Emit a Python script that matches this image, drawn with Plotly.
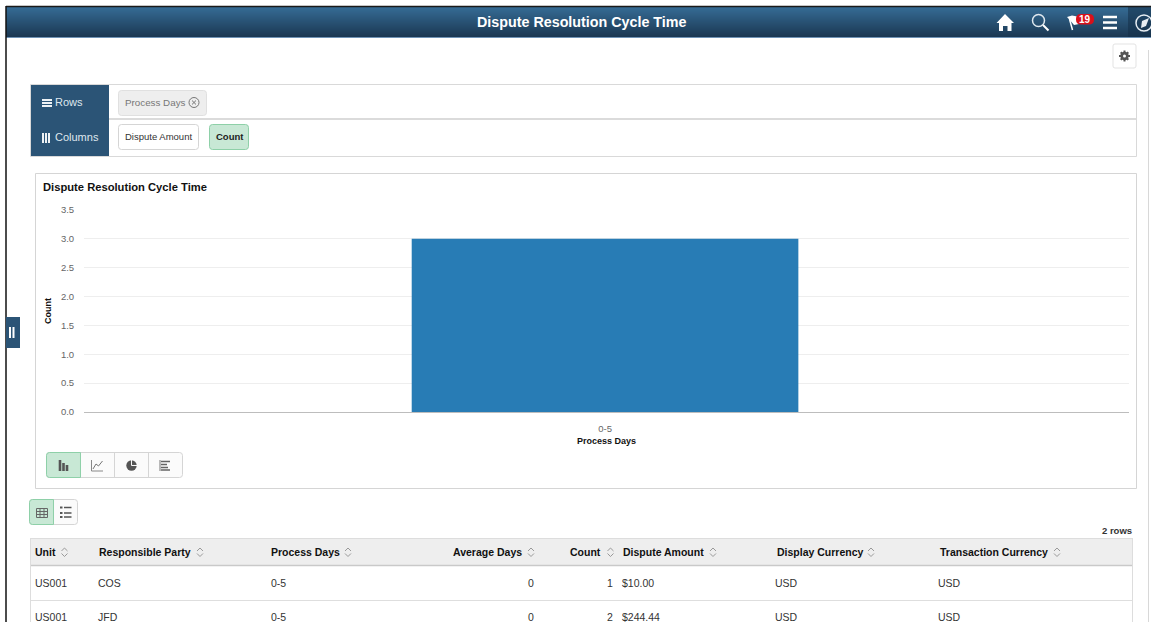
import plotly.graph_objects as go

W, H = 1151, 622
FONT = "Liberation Sans"

# ---- data ----
process_days = ["0-5"]
counts = [3]
y_ticks = [0, 0.5, 1, 1.5, 2, 2.5, 3, 3.5]

units = ["US001", "US001"]
parties = ["COS", "JFD"]
row_days = ["0-5", "0-5"]
avg_days = ["0", "0"]
row_counts = ["1", "2"]
amounts = ["$10.00", "$244.44"]
display_cur = ["USD", "USD"]
trans_cur = ["USD", "USD"]

# ---- pixel helpers ----
def px(x): return x / W
def py(y): return 1 - y / H

shapes, ann = [], []

def rect(x0, y0, x1, y1, fill=None, line=None, lw=1, layer="below"):
    shapes.append(dict(type="rect", xref="paper", yref="paper", x0=px(x0), x1=px(x1),
                       y0=py(y1), y1=py(y0), fillcolor=fill or "rgba(0,0,0,0)",
                       line=dict(color=line or "rgba(0,0,0,0)", width=lw if line else 0), layer=layer))

def hline(x0, x1, y, c, lw=1, layer="below"):
    shapes.append(dict(type="line", xref="paper", yref="paper", x0=px(x0), x1=px(x1),
                       y0=py(y), y1=py(y), line=dict(color=c, width=lw), layer=layer))

def vline(x, y0, y1, c, lw=1, layer="below"):
    shapes.append(dict(type="line", xref="paper", yref="paper", x0=px(x), x1=px(x),
                       y0=py(y0), y1=py(y1), line=dict(color=c, width=lw), layer=layer))

def path(cmds, fill=None, line=None, lw=1):
    out = []
    for c in cmds:
        if c[0] == "Z":
            out.append("Z")
        elif c[0] == "Q":
            out.append(f"Q {px(c[1]):.6f},{py(c[2]):.6f} {px(c[3]):.6f},{py(c[4]):.6f}")
        else:
            out.append(f"{c[0]} {px(c[1]):.6f},{py(c[2]):.6f}")
    shapes.append(dict(type="path", xref="paper", yref="paper", path=" ".join(out),
                       fillcolor=fill or "rgba(0,0,0,0)",
                       line=dict(color=line or "rgba(0,0,0,0)", width=lw if line else 0), layer="above"))

def rrect(x0, y0, x1, y1, r=3, fill=None, line=None, lw=1):
    path([("M", x0 + r, y0), ("L", x1 - r, y0), ("Q", x1, y0, x1, y0 + r), ("L", x1, y1 - r),
          ("Q", x1, y1, x1 - r, y1), ("L", x0 + r, y1), ("Q", x0, y1, x0, y1 - r), ("L", x0, y0 + r),
          ("Q", x0, y0, x0 + r, y0), ("Z",)], fill, line, lw)

def lrect(x0, y0, x1, y1, r=3, fill=None, line=None, lw=1):
    path([("M", x0 + r, y0), ("L", x1, y0), ("L", x1, y1), ("L", x0 + r, y1),
          ("Q", x0, y1, x0, y1 - r), ("L", x0, y0 + r), ("Q", x0, y0, x0 + r, y0), ("Z",)], fill, line, lw)

def poly(pts, fill=None, line=None, lw=1, close=True):
    cmds = [("M", *pts[0])] + [("L", *p) for p in pts[1:]]
    if close:
        cmds.append(("Z",))
    path(cmds, fill, line, lw)

def circle(cx, cy, r, fill=None, line=None, lw=1):
    shapes.append(dict(type="circle", xref="paper", yref="paper", x0=px(cx - r), x1=px(cx + r),
                       y0=py(cy + r), y1=py(cy - r), fillcolor=fill or "rgba(0,0,0,0)",
                       line=dict(color=line or "rgba(0,0,0,0)", width=lw if line else 0), layer="above"))

def text(x, y, s, size=10.5, color="#333333", bold=False, anchor="left"):
    ann.append(dict(xref="paper", yref="paper", x=px(x), y=py(y), text=f"<b>{s}</b>" if bold else s,
                    showarrow=False, xanchor=anchor, yanchor="middle", borderpad=0, borderwidth=0,
                    font=dict(family=FONT, size=size, color=color)))

# ---- page frame and header ----
top, bottom = (0x35, 0x6B, 0x94), (0x1B, 0x38, 0x53)
for i in range(30):
    t = i / 29
    c = "rgb(%d,%d,%d)" % tuple(round(a + (b - a) * t) for a, b in zip(top, bottom))
    rect(6, 7 + i, W, 8 + i, fill=c)
rect(1128, 7, W, 37, fill="rgba(20,48,72,0.55)")
hline(6, W, 6.5, "#1a1a1a", 1.5)
hline(6, W, 37.5, "#6f93b5", 1)
vline(6, 6, H, "#111111", 1.5)
text(581.5, 22, "Dispute Resolution Cycle Time", size=14.3, color="#ffffff", bold=True, anchor="center")

# home
poly([(1005, 14), (1014, 23), (1011.5, 23), (1011.5, 31), (1007.5, 31), (1007.5, 26), (1003, 26),
      (1003, 31), (999, 31), (999, 23), (996.5, 23)], fill="#ffffff")
# search
circle(1038.5, 20.5, 6, line="#dfe8ef", lw=1.5)
poly([(1043, 25), (1048.5, 30.5)], line="#ffffff", lw=2, close=False)
# flag with badge
poly([(1067, 17), (1072, 15.5), (1080, 17), (1079, 24), (1074, 25), (1071.5, 22)], fill="#ffffff")
poly([(1069.5, 19), (1072.5, 30)], line="#ffffff", lw=1.5, close=False)
rrect(1076, 14, 1094, 24.5, r=5, fill="#d9101a")
text(1085, 19.3, "19", size=10, color="#ffffff", bold=True, anchor="center")
# hamburger
for y in (17, 22.5, 28):
    hline(1103, 1117, y, "#ffffff", 2.5, layer="above")
# compass
circle(1144, 23, 8, line="#e8eef3", lw=1.5)
poly([(1149, 18), (1146, 26), (1141, 28), (1142, 21)], fill="#e8eef3")

# gear button
rrect(1113, 44, 1136, 68, r=2, fill="#ffffff", line="#e3e3e3")
circle(1124.5, 56, 4.2, fill="#555555")
for a, b in [((1124.5, 50.5), (1124.5, 61.5)), ((1119, 56), (1130, 56)),
             ((1120.7, 52.2), (1128.3, 59.8)), ((1128.3, 52.2), (1120.7, 59.8))]:
    poly([a, b], line="#555555", lw=2, close=False)
circle(1124.5, 56, 1.5, fill="#ffffff")
vline(1148.5, 50, H, "#d8d8d8")

# ---- filter panel ----
rect(30.5, 84.5, 1136.5, 156.5, fill="#ffffff", line="#d9d9d9")
hline(109, 1136, 119, "#cfcfcf", 1.5)
rect(31, 85, 109, 156, fill="#2B5476")
for y in (100, 103, 106):
    hline(42, 52, y, "#eef2f5", 2, layer="above")
for x in (43, 46, 49):
    vline(x, 133, 143, "#eef2f5", 2, layer="above")
text(55, 102.5, "Rows", size=11, color="#dfe7ee")
text(55, 137, "Columns", size=11, color="#dfe7ee")
rrect(118.5, 90.5, 206.5, 115.5, fill="#eeeeee", line="#e0e0e0")
text(125, 102.5, "Process Days", size=9.8, color="#777777")
circle(194, 102.5, 5, line="#777777", lw=1)
poly([(192, 100.5), (196, 104.5)], line="#777777", lw=1, close=False)
poly([(196, 100.5), (192, 104.5)], line="#777777", lw=1, close=False)
rrect(118.5, 124.5, 198.5, 149.5, fill="#ffffff", line="#d5d5d5")
text(125, 136, "Dispute Amount", size=9.5, color="#333333")
rrect(209.5, 124.5, 248.5, 149.5, fill="#C8E8D5", line="#8ED0A8")
text(229.5, 136, "Count", size=9.5, color="#222222", bold=True, anchor="center")

# ---- chart panel ----
rect(35.5, 173.5, 1136.5, 488.5, fill="#ffffff", line="#d5d5d5")
text(43, 187, "Dispute Resolution Cycle Time", size=11.2, color="#111111", bold=True)

# chart-type buttons
rrect(46.5, 452.5, 182.5, 477.5, fill="#fbfbfb", line="#d5d5d5")
lrect(46.5, 452.5, 80.5, 477.5, fill="#C8E8D5", line="#8ED0A8")
vline(114.5, 453, 477, "#d5d5d5", layer="above")
vline(148.5, 453, 477, "#d5d5d5", layer="above")
for x, y0 in ((60, 460), (63.5, 463), (67, 465)):
    rect(x - 1.3, y0, x + 1.3, 471, fill="#555555", layer="above")
poly([(91.5, 460), (91.5, 471), (103, 471)], line="#888888", lw=1, close=False)
poly([(93, 469), (96, 464), (98.5, 466), (102.5, 461)], line="#777777", lw=1, close=False)
circle(131.5, 465.5, 5.2, fill="#555555")
poly([(131.5, 465.5), (131.5, 459.5)], line="#fbfbfb", lw=1, close=False)
poly([(131.5, 465.5), (137.5, 465.5)], line="#fbfbfb", lw=1, close=False)
vline(160, 460, 471, "#777777", layer="above")
for y, x1 in ((461.5, 170), (464.5, 167), (467.5, 168), (470, 170)):
    hline(161, x1, y, "#666666", 1.5, layer="above")

# view toggle buttons
rrect(29.5, 499.5, 77.5, 524.5, fill="#fbfbfb", line="#d5d5d5")
lrect(29.5, 499.5, 53.5, 524.5, fill="#C8E8D5", line="#8ED0A8")
rect(36.5, 508.5, 47.5, 517.5, line="#666666", layer="above")
for x in (40, 44):
    vline(x, 508.5, 517.5, "#666666", layer="above")
for y in (511.5, 514.5):
    hline(36.5, 47.5, y, "#666666", layer="above")
for y in (507.5, 513, 517):
    rect(60, y - 1, 62.5, y + 1, fill="#555555", layer="above")
    hline(64, 71.5, y, "#555555", 1.5, layer="above")

# ---- table ----
text(1132, 530, "2 rows", size=9.5, color="#333333", bold=True, anchor="right")
rect(30, 538, 1132, 565, fill="#eeeeee")
hline(30, 1132, 538.5, "#dddddd")
hline(30, 1132, 565.5, "#c9c9c9", 1.5)
hline(30, 1132, 600.5, "#dedede")
vline(30.5, 538, H, "#dddddd")
vline(1132.5, 538, H, "#dddddd")

headers = [("Unit", 35, "left", 64.5), ("Responsible Party", 99, "left", 200), ("Process Days", 271, "left", 348),
           ("Average Days", 522, "right", 531), ("Count", 601, "right", 610.5),
           ("Dispute Amount", 623, "left", 713), ("Display Currency", 777, "left", 871),
           ("Transaction Currency", 940, "left", 1057)]
for label, x, a, sx in headers:
    text(x, 552, label, size=10.5, color="#111111", bold=True, anchor=a)
    poly([(sx - 3, 551), (sx, 548), (sx + 3, 551)], line="#999999", lw=1, close=False)
    poly([(sx - 3, 553.5), (sx, 556.5), (sx + 3, 553.5)], line="#999999", lw=1, close=False)

columns = [(units, 35, "left"), (parties, 98, "left"), (row_days, 271, "left"), (avg_days, 534, "right"),
           (row_counts, 613, "right"), (amounts, 622, "left"), (display_cur, 775, "left"), (trans_cur, 938, "left")]
for vals, x, a in columns:
    for v, y in zip(vals, (583, 616.5)):
        text(x, y, v, size=10.5, color="#333333", anchor=a)

# collapse tab
rect(6, 317, 20, 348, fill="#2B5476")
for x in (10, 13.5):
    vline(x, 327, 338, "#ffffff", 2, layer="above")

# ---- chart ----
fig = go.Figure(go.Bar(x=process_days, y=counts, marker=dict(color="#287CB5", line=dict(width=0)),
                       width=0.37, hoverinfo="x+y"))
fig.update_layout(
    width=W, height=H, margin=dict(l=0, r=0, t=0, b=0), autosize=False,
    paper_bgcolor="#ffffff", plot_bgcolor="rgba(0,0,0,0)", showlegend=False,
    shapes=shapes, annotations=ann,
    xaxis=dict(domain=[px(84), px(1129)], range=[-0.4986, 0.5014], type="category", showgrid=False,
               showline=True, linecolor="#bdbdbd", linewidth=1, zeroline=False,
               ticks="outside", ticklen=8, tickcolor="rgba(0,0,0,0)",
               tickfont=dict(family=FONT, size=9.5, color="#666666"),
               title=dict(text="<b>Process Days</b>", font=dict(family=FONT, size=9, color="#111111"), standoff=4),
               automargin=False),
    yaxis=dict(domain=[py(412), py(210)], range=[0, 3.5], tickvals=y_ticks, tickformat=".1f",
               showgrid=True, gridcolor="#eeeeee", gridwidth=1, zeroline=False,
               ticks="outside", ticklen=7, tickcolor="rgba(0,0,0,0)",
               tickfont=dict(family=FONT, size=9.5, color="#666666"),
               title=dict(text="<b>Count</b>", font=dict(family=FONT, size=9, color="#111111"), standoff=7),
               automargin=False),
)
fig.write_html("out.html", config=dict(displayModeBar=False),
               post_script="document.body.style.margin='0';document.body.style.overflow='hidden';")
